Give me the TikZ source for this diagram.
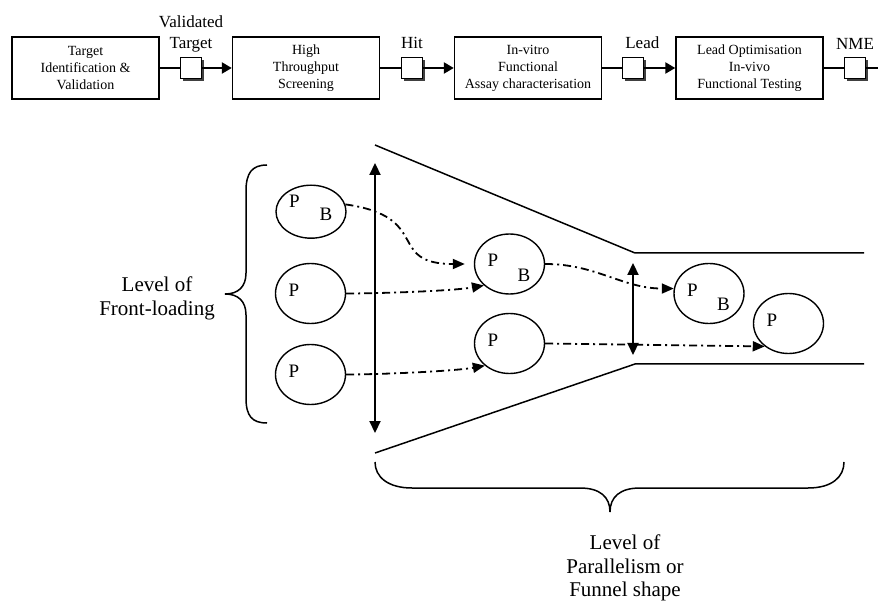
\documentclass[tikz,border=0pt]{standalone}
\usepackage{fontspec}
\setmainfont{Liberation Serif}
\usetikzlibrary{shapes.geometric, arrows.meta, positioning, shadows, calc}

\begin{document}
\begin{tikzpicture}[
    x=1pt, y=1pt,
    stage/.style={rectangle, draw, line width=1.4pt, minimum width=147pt, minimum height=62pt, align=center, font=\fontsize{14}{17}\selectfont, inner sep=0pt},
    gate/.style={rectangle, draw, line width=1.3pt, fill=white, minimum size=21pt, inner sep=0pt, drop shadow={shadow xshift=2.5pt, shadow yshift=-2.5pt, fill=black!75, opacity=1}},
    tag/.style={align=center, font=\fontsize{17}{21}\selectfont, inner sep=0pt},
    pill/.style={ellipse, draw, line width=1.4pt, minimum width=70pt, minimum height=60pt, inner sep=0pt},
    lett/.style={font=\fontsize{19}{19}\selectfont, inner sep=0pt},
    lvl/.style={align=center, font=\fontsize{21}{23.5}\selectfont, inner sep=0pt},
    link/.style={line width=2.3pt},
    flow/.style={line width=2.3pt, -{Triangle[length=10pt, width=11pt]}},
    track/.style={line width=1.8pt, dash pattern=on 8pt off 4pt on 2pt off 4pt, -{Triangle[length=12pt, width=10pt]}},
    span/.style={line width=2.2pt, {Triangle[length=12pt, width=11pt]}-{Triangle[length=12pt, width=11pt]}},
    rim/.style={line width=1.5pt}
  ]
  \useasboundingbox (0,0) rectangle (878,603);
  \clip (0,0) rectangle (878,603);

  % pipeline
  \node[stage] (tid) at (85.5,535) {Target\\Identification \&\\Validation};
  \node[stage] (hts) at (306,535) {High\\Throughput\\Screening};
  \node[stage] (iva) at (528,535) {In-vitro\\Functional\\Assay characterisation};
  \node[stage] (lop) at (749.5,535) {Lead Optimisation\\In-vivo\\Functional Testing};

  \node[gate] (gv) at (191,535) {};
  \node[gate] (gh) at (412,535) {};
  \node[gate] (gl) at (633.3,535) {};
  \node[gate] (gn) at (855,535) {};
  \coordinate (out) at (888,535);

  \node[tag, above=4pt of gv] (tv) {Validated\\Target};
  \node[tag, above=7.5pt of gh] (th) {Hit};
  \node[tag, above=7.5pt of gl, xshift=9pt] (tl) {Lead};
  \node[tag, above=7.5pt of gn] (tn) {NME};

  \draw[link] (tid.east) -- (gv.west);
  \draw[flow] (gv.east) -- (hts.west);
  \draw[link] (hts.east) -- (gh.west);
  \draw[flow] (gh.east) -- (iva.west);
  \draw[link] (iva.east) -- (gl.west);
  \draw[flow] (gl.east) -- (lop.west);
  \draw[link] (lop.east) -- (gn.west);
  \draw[flow] (gn.east) -- (out);

  % funnel
  \draw[rim] (375,458) -- (635,350) -- (864,350);
  \draw[rim] (375,150) -- (635,239) -- (864,239);

  \coordinate (wt) at (375,440);
  \coordinate (wb) at (375,170);
  \draw[span] (wt) -- (wb);
  \coordinate (nt) at (633,340);
  \coordinate (nb) at (633,248);
  \draw[span] (nt) -- (nb);

  % projects
  \node[pill, minimum height=53pt] (pb1) at (311,391.3) {};
  \node[pill] (p2) at (310.5,309.5) {};
  \node[pill] (p3) at (310.5,228.5) {};
  \node[pill] (pbm) at (509.5,339) {};
  \node[pill] (pm) at (509.5,259.5) {};
  \node[pill] (pbr) at (709,309.5) {};
  \node[pill] (pr) at (788.5,279.5) {};

  \node[lett] (pb1-p) at ($(pb1)+(-16.5,10.5)$) {P};
  \node[lett] (pb1-b) at ($(pb1)+(15,-2.5)$) {B};
  \foreach \c in {p2,p3,pbm,pm,pbr,pr}
    \node[lett] (\c-p) at ($(\c)+(-16.5,3.5)$) {P};
  \foreach \c in {pbm,pbr}
    \node[lett] (\c-b) at ($(\c)+(14.5,-11)$) {B};

  \draw[track, shorten >=9pt] (pb1.12) to[out=-8, in=180, looseness=1.6] (pbm.west);
  \draw[track] (p2.east) to[out=0, in=190, looseness=0.6] (pbm.220);
  \draw[track] (p3.east) to[out=0, in=190, looseness=0.6] (pm.222);
  \draw[track] (pbm.east) to[out=0, in=180] (pbr.172);
  \draw[track] (pm.east) -- (pr.224);

  % braces
  \draw[rim] (267,438) .. controls (252,438) and (246,430) .. (246,412) -- (246,330)
    .. controls (246,316) and (238,309) .. (225,309)
    .. controls (238,309) and (246,302) .. (246,288) -- (246,205)
    .. controls (246,187) and (252,180) .. (267,180);
  \draw[rim] (375,141) .. controls (375,126) and (388,115) .. (412,115) -- (580,115)
    .. controls (600,115) and (610,106) .. (610,91)
    .. controls (610,106) and (620,115) .. (640,115) -- (808,115)
    .. controls (832,115) and (844,126) .. (844,141);

  \node[lvl] (fl) at (157,304.5) {Level of\\Front-loading};
  \node[lvl] (pf) at (625,35) {Level of\\Parallelism or\\Funnel shape};
\end{tikzpicture}
\end{document}
